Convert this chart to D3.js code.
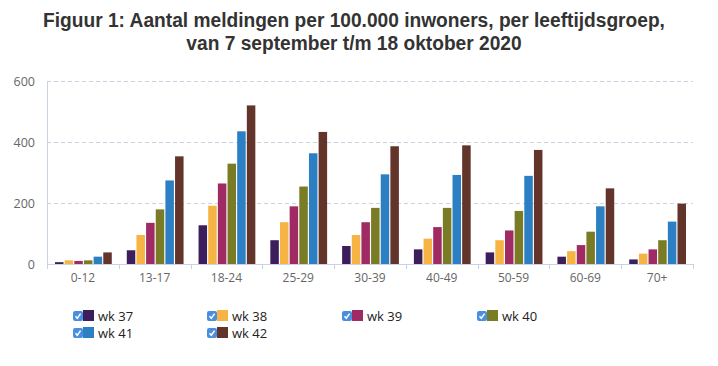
<!DOCTYPE html>
<html>
<head>
<meta charset="utf-8">
<script src="https://cdn.jsdelivr.net/npm/d3@7"></script>
<style>
  html, body { margin: 0; padding: 0; background: #fff; }
  svg { display: block; }
</style>
</head>
<body>
<svg id="chart" width="718" height="366"></svg>
<script>
const titleLines = ["Figuur 1: Aantal meldingen per 100.000 inwoners, per leeftijdsgroep,", "van 7 september t/m 18 oktober 2020"];
const categories = ["0-12", "13-17", "18-24", "25-29", "30-39", "40-49", "50-59", "60-69", "70+"];
const seriesNames = ["wk 37", "wk 38", "wk 39", "wk 40", "wk 41", "wk 42"];
const seriesColors = ["#3c1e5d", "#f5b443", "#a02a63", "#7a7b25", "#2b7fc2", "#62342a"];
const wk37 = [6, 45, 127, 78, 59, 48, 38, 24, 15];
const wk38 = [12, 95, 191, 137, 95, 83, 78, 42, 34];
const wk39 = [10, 135, 264, 189, 137, 121, 110, 62, 48];
const wk40 = [12, 179, 329, 254, 184, 184, 174, 106, 78];
const wk41 = [24, 274, 435, 363, 294, 292, 289, 189, 139];
const wk42 = [38, 353, 520, 433, 386, 389, 374, 248, 198];
const yTicks = [0, 200, 400, 600];

const seriesValues = [wk37, wk38, wk39, wk40, wk41, wk42];
const svg = d3.select("#chart");

// Title: condensed horizontally to mimic the narrow reference font
const tg = svg.append("g");
const ttext = tg.append("text")
  .attr("text-anchor", "middle")
  .attr("font-family", "'Liberation Sans', Arial, sans-serif")
  .attr("font-weight", 700)
  .attr("font-size", 20)
  .attr("fill", "#333333");
const tspans = titleLines.map((t, i) =>
  ttext.append("tspan").attr("x", 0).attr("y", i * 23).text(t));
const natural = tspans[0].node().getComputedTextLength();
const sx = 622 / natural;
tg.attr("transform", `translate(354,27) scale(${sx},1)`);

const plot = { left: 47, right: 693, top: 81, bottom: 264 };

const x0 = d3.scaleBand().domain(categories).range([plot.left, plot.right]).padding(0);
const x1 = d3.scaleBand().domain(seriesNames)
  .range([8, x0.bandwidth() - 7]).paddingInner(0.12).paddingOuter(0);
const y = d3.scaleLinear().domain([0, 600]).range([plot.bottom, plot.top]);

// Grid lines
svg.append("g").selectAll("line").data(yTicks.filter(d => d > 0)).join("line")
  .attr("x1", plot.left).attr("x2", plot.right)
  .attr("y1", d => y(d) + 0.5).attr("y2", d => y(d) + 0.5)
  .attr("stroke", "#c9d3e3").attr("stroke-width", 1)
  .attr("stroke-dasharray", "4,3");

// Left axis line
svg.append("line")
  .attr("x1", plot.left + 0.5).attr("x2", plot.left + 0.5)
  .attr("y1", plot.top).attr("y2", plot.bottom)
  .attr("stroke", "#c9d3e3");

// Y labels
const yAxis = d3.axisLeft(y).tickValues(yTicks).tickSize(0).tickPadding(0);
const yg = svg.append("g").attr("transform", `translate(35,0)`).call(yAxis);
yg.select(".domain").remove();
yg.selectAll("text")
  .attr("font-family", "'Open Sans', sans-serif")
  .attr("font-size", 12.5)
  .attr("fill", "#666666");

// Bars
const groups = svg.append("g").selectAll("g").data(categories).join("g")
  .attr("transform", d => `translate(${x0(d)},0)`);
groups.selectAll("rect")
  .data((c, ci) => seriesNames.map((s, si) => ({ s, si, v: seriesValues[si][ci] })))
  .join("rect")
  .attr("x", d => x1(d.s))
  .attr("width", x1.bandwidth())
  .attr("y", d => y(d.v))
  .attr("height", d => y(0) - y(d.v))
  .attr("fill", d => seriesColors[d.si]);

// X axis
const xAxis = d3.axisBottom(x0).tickSize(0).tickPadding(9);
const xg = svg.append("g").attr("transform", `translate(0,${plot.bottom})`).call(xAxis);
xg.select(".domain").remove();
xg.selectAll("text")
  .attr("font-family", "'Open Sans', sans-serif")
  .attr("font-size", 12)
  .attr("fill", "#666666");
svg.append("line")
  .attr("x1", plot.left).attr("x2", plot.right)
  .attr("y1", plot.bottom + 0.5).attr("y2", plot.bottom + 0.5)
  .attr("stroke", "#c9d3e3");
// category boundary ticks
const bounds = categories.map(c => x0(c)).concat([plot.right]);
svg.append("g").selectAll("line").data(bounds).join("line")
  .attr("x1", d => Math.round(d) + 0.5).attr("x2", d => Math.round(d) + 0.5)
  .attr("y1", plot.bottom).attr("y2", plot.bottom + 5)
  .attr("stroke", "#c9d3e3");

// Legend
const legendX = [73, 207, 342, 477];
const legendY = [316, 333];
const leg = svg.append("g").selectAll("g").data(seriesNames).join("g")
  .attr("transform", (d, i) => `translate(${legendX[i % 4]},${legendY[Math.floor(i / 4)]})`);
leg.append("rect")
  .attr("x", 0).attr("y", -5).attr("width", 10).attr("height", 10)
  .attr("rx", 2).attr("fill", "#4a8fdf");
leg.append("path")
  .attr("d", "M2.5,5.2 L4.3,7.3 L7.6,2.6")
  .attr("transform", "translate(0,-5)")
  .attr("fill", "none").attr("stroke", "#ffffff").attr("stroke-width", 1.5);
leg.append("rect")
  .attr("x", 10).attr("y", -6).attr("width", 11).attr("height", 11)
  .attr("fill", (d, i) => seriesColors[i]);
leg.append("text")
  .attr("x", 25).attr("y", 0).attr("dy", "0.35em")
  .attr("font-family", "'Open Sans', sans-serif")
  .attr("font-size", 13)
  .attr("fill", "#222222")
  .text(d => d);
</script>
</body>
</html>
